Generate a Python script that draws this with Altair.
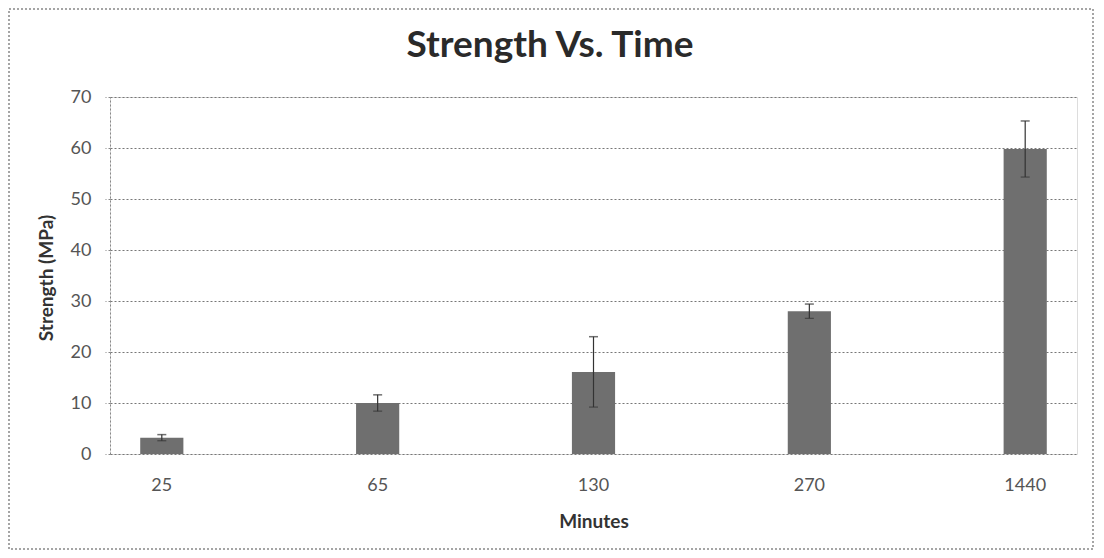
import altair as alt
import pandas as pd

minutes = ["25", "65", "130", "270", "1440"]
strength = [3.2, 10.0, 16.1, 28.0, 59.8]
error = [0.6, 1.6, 6.9, 1.4, 5.5]
title_text = "Strength Vs. Time"

df = pd.DataFrame({
    "Minutes": minutes,
    "Strength": strength,
    "Lower": [s - e for s, e in zip(strength, error)],
    "Upper": [s + e for s, e in zip(strength, error)],
})

W, H = 967, 357
FONT = "Lato"

xenc = alt.X(
    "Minutes:N", sort=minutes,
    scale=alt.Scale(paddingInner=0.8, paddingOuter=0.14),
    axis=alt.Axis(
        title="Minutes", labelAngle=0, labelFont=FONT, labelFontSize=18,
        labelColor="#555", labelPadding=22, ticks=False, domain=False,
        titleFont=FONT, titleFontSize=19, titleFontWeight="bold", titleColor="#333",
        titleY=67, titleBaseline="middle",
    ),
)

yenc = alt.Y(
    "Strength:Q",
    scale=alt.Scale(domain=[0, 70]),
    axis=alt.Axis(
        title="Strength (MPa)", values=[0, 10, 20, 30, 40, 50, 60, 70],
        labelFont=FONT, labelFontSize=18, labelColor="#555", labelPadding=14,
        tickSize=5, tickColor="#888", tickDash=[2, 2],
        domain=True, domainColor="#888", domainDash=[2, 2],
        grid=True, gridColor="#777", gridDash=[2, 2], gridWidth=1,
        titleFont=FONT, titleFontSize=19, titleFontWeight="bold", titleColor="#333",
        titleX=-64, titleY=H / 2 + 2, titleAngle=-90, titleAlign="center",
        titleBaseline="middle",
    ),
)

bars = alt.Chart(df).mark_bar(color="#6f6f6f").encode(x=xenc, y=yenc)

rules = alt.Chart(df).mark_rule(color="#333", strokeWidth=1.2).encode(
    x=alt.X("Minutes:N", sort=minutes), y="Lower:Q", y2="Upper:Q"
)
caps_top = alt.Chart(df).mark_tick(color="#333", size=9, thickness=1.5).encode(
    x=alt.X("Minutes:N", sort=minutes), y="Upper:Q"
)
caps_low = alt.Chart(df).mark_tick(color="#333", size=9, thickness=1.2).encode(
    x=alt.X("Minutes:N", sort=minutes), y="Lower:Q"
)

one = alt.Data(values=[{"t": title_text}])

frame = alt.Chart(one).mark_rect(
    fill=None, stroke="#888", strokeDash=[2, 2], strokeWidth=1.5, clip=False
).encode(
    x=alt.value(-101), x2=alt.value(983), y=alt.value(-88), y2=alt.value(452)
)

title = alt.Chart(one).mark_text(
    font=FONT, fontSize=37, fontWeight="bold", color="#2a2a2a",
    align="center", baseline="middle", clip=False,
).encode(
    text="t:N", x=alt.value(440), y=alt.value(-51)
)

chart = alt.layer(frame, title, bars, rules, caps_top, caps_low).properties(
    width=W, height=H,
    padding=0,
).configure_view(stroke=None).configure(background="white")

chart.save("out.html", embed_options={"renderer": "svg", "actions": False})
